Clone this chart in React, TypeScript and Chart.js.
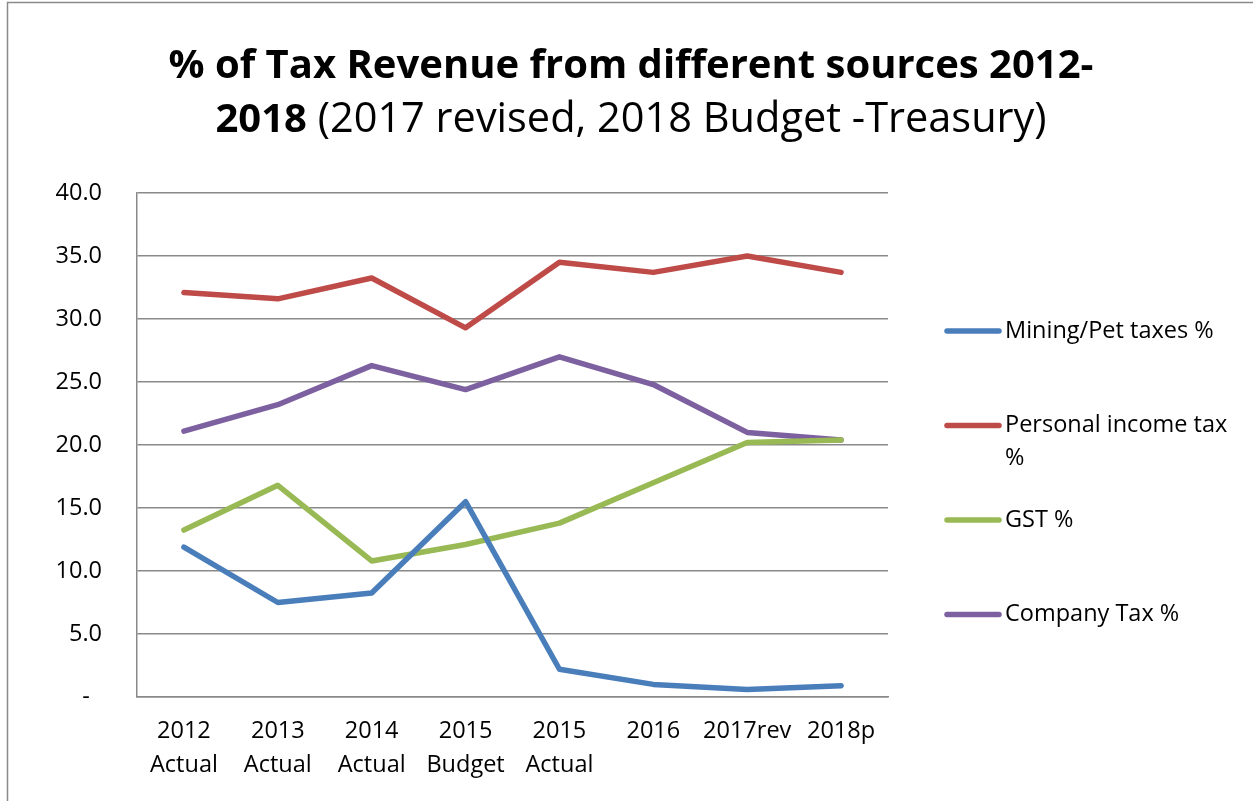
import { useEffect, useRef } from "react";
import { Chart, registerables } from "chart.js";

Chart.register(...registerables);

// ---- Data ----
const categories: string[][] = [
  ["2012", "Actual"],
  ["2013", "Actual"],
  ["2014", "Actual"],
  ["2015", "Budget"],
  ["2015", "Actual"],
  ["2016"],
  ["2017rev"],
  ["2018p"],
];
const miningPetTaxes = [11.9, 7.5, 8.25, 15.5, 2.2, 1.0, 0.6, 0.9];
const personalIncomeTax = [32.1, 31.6, 33.25, 29.3, 34.5, 33.7, 35.0, 33.7];
const gstShare = [13.25, 16.8, 10.8, 12.1, 13.8, 17.0, 20.2, 20.4];
const companyTax = [21.1, 23.2, 26.3, 24.4, 27.0, 24.8, 21.0, 20.4];
const seriesNames = ["Mining/Pet taxes %", "Personal income tax %", "GST %", "Company Tax %"];
const seriesColors = ["#4A7EBB", "#BE4B48", "#98B954", "#7D60A0"];
const yMin = 0;
const yMax = 40;
const yStep = 5;
const titleBold1 = "% of Tax Revenue from different sources 2012-";
const titleBold2 = "2018";
const titleNormal2 = " (2017 revised, 2018 Budget -Treasury)";

const FONT = "'Open Sans', 'Noto Sans', sans-serif";
const GRID = "#898989";

const decorPlugin = {
  id: "decor",
  afterDraw(chart: any) {
    const ctx = chart.ctx as CanvasRenderingContext2D;
    const W = chart.width;
    ctx.save();
    // outer frame
    ctx.strokeStyle = "#8a8a8a";
    ctx.lineWidth = 1.5;
    ctx.beginPath();
    ctx.moveTo(7.5, 820);
    ctx.lineTo(7.5, 2.5);
    ctx.lineTo(W + 10, 2.5);
    ctx.stroke();

    // title
    const cx = 631;
    ctx.fillStyle = "#000";
    ctx.textBaseline = "alphabetic";
    ctx.textAlign = "left";
    const boldFont = `bold 40px ${FONT}`;
    const normFont = `41.5px ${FONT}`;
    ctx.font = boldFont;
    const w1 = ctx.measureText(titleBold1).width;
    ctx.fillText(titleBold1, cx - w1 / 2, 78);
    const wb = ctx.measureText(titleBold2).width;
    ctx.font = normFont;
    const wn = ctx.measureText(titleNormal2).width;
    const x2 = cx - (wb + wn) / 2;
    ctx.font = boldFont;
    ctx.fillText(titleBold2, x2, 132);
    ctx.font = normFont;
    ctx.fillText(titleNormal2, x2 + wb, 132);

    // legend
    ctx.font = `23.5px ${FONT}`;
    ctx.textBaseline = "middle";
    const textX = 1005;
    const maxW = W - textX - 10;
    chart.data.datasets.forEach((ds: any, i: number) => {
      const y = 331 + i * 94.5;
      ctx.strokeStyle = ds.borderColor;
      ctx.lineWidth = 5.5;
      ctx.lineCap = "round";
      ctx.beginPath();
      ctx.moveTo(947, y);
      ctx.lineTo(999, y);
      ctx.stroke();
      const words = String(ds.label).split(" ");
      const lines: string[] = [];
      let cur = "";
      for (const w of words) {
        const t = cur ? cur + " " + w : w;
        if (ctx.measureText(t).width > maxW && cur) {
          lines.push(cur);
          cur = w;
        } else cur = t;
      }
      if (cur) lines.push(cur);
      ctx.fillStyle = "#000";
      lines.forEach((ln, k) => ctx.fillText(ln, textX, y + k * 33));
    });
    ctx.restore();
  },
};

export default function App() {
  const ref = useRef<HTMLCanvasElement | null>(null);
  useEffect(() => {
    if (!ref.current) return;
    const data = [miningPetTaxes, personalIncomeTax, gstShare, companyTax];
    const chart = new Chart(ref.current, {
      type: "line",
      data: {
        labels: categories,
        datasets: data.map((d, i) => ({
          label: seriesNames[i],
          data: d,
          borderColor: seriesColors[i],
          backgroundColor: seriesColors[i],
          borderWidth: 5.5,
          pointRadius: 0,
          pointHoverRadius: 0,
          tension: 0,
          borderCapStyle: "round" as const,
          borderJoinStyle: "round" as const,
          fill: false,
        })),
      },
      options: {
        animation: false,
        responsive: true,
        maintainAspectRatio: false,
        layout: { padding: { left: 0, top: 193, right: 365, bottom: 0 } },
        plugins: {
          legend: { display: false },
          title: { display: false },
          tooltip: { enabled: false },
        },
        scales: {
          x: {
            offset: true,
            grid: { display: false, drawTicks: false },
            border: { display: true, color: GRID, width: 1.5 },
            ticks: {
              color: "#000",
              padding: 17,
              maxRotation: 0,
              autoSkip: false,
              font: { family: FONT, size: 23.5, lineHeight: 34 / 23.5 },
            },
            afterFit: (s: any) => {
              s.height = 104;
            },
          },
          y: {
            min: yMin,
            max: yMax,
            grid: { color: GRID, lineWidth: 1.5, drawTicks: false },
            border: { display: true, color: GRID, width: 1.5 },
            ticks: {
              stepSize: yStep,
              color: "#000",
              padding: 35,
              font: { family: FONT, size: 23.5 },
              callback: (v: any) => (Number(v) === 0 ? "-  " : Number(v).toFixed(1)),
            },
            afterFit: (s: any) => {
              s.width = 137;
            },
          },
        },
      },
      plugins: [decorPlugin],
    });
    return () => chart.destroy();
  }, []);
  return (
    <div style={{ position: "fixed", left: 0, top: 0, width: 1253, height: 801, background: "#fff" }}>
      <canvas ref={ref} />
    </div>
  );
}
